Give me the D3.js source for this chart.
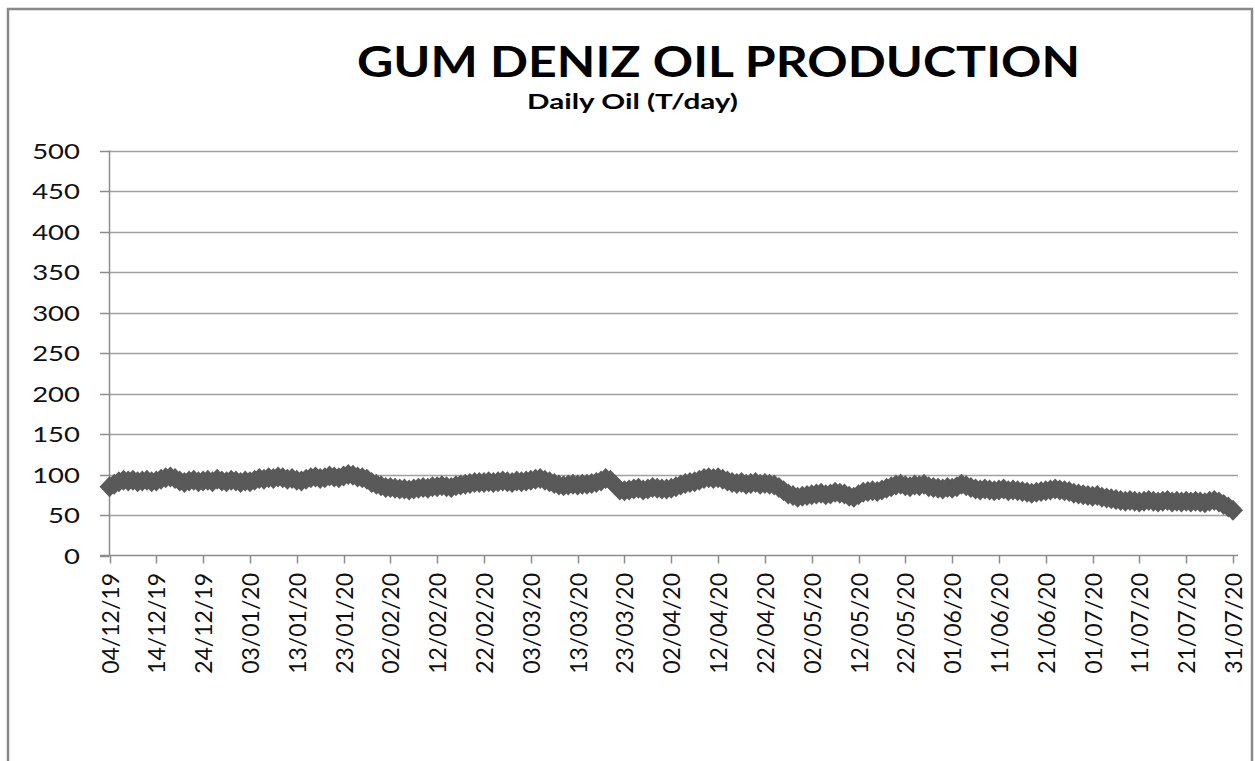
<!DOCTYPE html>
<html>
  <head>
    <title>Gum Deniz Oil Production</title>
    <script src="https://d3js.org/d3.v7.min.js"></script>
    <style>
      body {
        margin: 0;
        background: #ffffff;
      }
      svg {
        display: block;
      }
    </style>
  </head>
  <body onload="main()">
    <svg></svg>

    <script>
      // chart data
      var startDate = "04/12/19";
      var tickLabels = [
        "04/12/19", "14/12/19", "24/12/19", "03/01/20", "13/01/20",
        "23/01/20", "02/02/20", "12/02/20", "22/02/20", "03/03/20",
        "13/03/20", "23/03/20", "02/04/20", "12/04/20", "22/04/20",
        "02/05/20", "12/05/20", "22/05/20", "01/06/20", "11/06/20",
        "21/06/20", "01/07/20", "11/07/20", "21/07/20", "31/07/20"
      ];
      var yTicks = [0, 50, 100, 150, 200, 250, 300, 350, 400, 450, 500];
      // daily oil, T/day, one value per day from 04/12/19
      var dailyOil = [
        85, 88, 91, 93, 92, 93, 91, 92, 93, 91,
        92, 94, 96, 97, 95, 92, 90, 92, 93, 91,
        92, 93, 91, 94, 92, 91, 93, 92, 90, 92,
        91, 93, 95, 94, 96, 95, 97, 96, 94, 95,
        93, 92, 94, 96, 97, 95, 96, 98, 97, 96,
        98, 100, 99, 97, 96, 94, 90, 88, 86, 84,
        84, 83, 82, 82, 81, 82, 83, 84, 83, 85,
        85, 86, 85, 84, 86, 87, 88, 89, 90, 90,
        90, 91, 90, 91, 92, 91, 90, 92, 91, 92,
        93, 94, 95, 93, 91, 89, 87, 86, 87, 88,
        87, 88, 88, 89, 90, 92, 95, 93, 87, 81,
        80, 81, 82, 83, 81, 82, 84, 83, 82, 82,
        83, 85, 87, 89, 90, 91, 93, 95, 96, 95,
        96, 94, 92, 90, 89, 90, 88, 89, 90, 88,
        89, 88, 87, 84, 80, 76, 74, 72, 73, 74,
        75, 76, 77, 75, 76, 78, 77, 76, 73, 72,
        75, 78, 79, 80, 79, 81, 83, 85, 87, 88,
        86, 85, 87, 86, 88, 85, 84, 83, 82, 84,
        83, 85, 88, 86, 84, 82, 81, 82, 81, 80,
        81, 82, 80, 81, 80, 79, 78, 77, 78, 79,
        80, 81, 82, 81, 80, 79, 77, 76, 75, 74,
        73, 74, 72, 71, 70, 69, 68, 67, 68, 67,
        66, 67, 68, 67, 66, 67, 68, 66, 67, 66,
        67, 66, 67, 66, 65, 67, 68, 66, 63, 60, 56
      ];

      function main() {
        var parseDate = d3.utcParse("%d/%m/%y");
        var start = parseDate(startDate);

        var data = dailyOil.map(function (v, i) {
          return { date: d3.utcDay.offset(start, i), value: v };
        });

        var svg = d3.select("svg").attr("width", 1255).attr("height", 761);

        // chart frame
        svg
          .append("rect")
          .attr("x", 8)
          .attr("y", 9)
          .attr("width", 1244)
          .attr("height", 800)
          .attr("fill", "#ffffff")
          .attr("stroke", "#8a8a8a")
          .attr("stroke-width", 2.5);

        // scales
        var x = d3
          .scaleUtc()
          .domain([start, parseDate(tickLabels[tickLabels.length - 1])])
          .range([109.5, 1233]);

        var y = d3.scaleLinear().domain([0, 500]).range([555.5, 150.5]);

        var plotRight = 1238;

        // gridlines
        svg
          .append("g")
          .selectAll("line")
          .data(yTicks.filter(function (d) { return d > 0; }))
          .enter()
          .append("line")
          .attr("x1", 109.5)
          .attr("x2", plotRight)
          .attr("y1", function (d) { return Math.round(y(d)) + 0.5; })
          .attr("y2", function (d) { return Math.round(y(d)) + 0.5; })
          .attr("stroke", "#a0a0a0")
          .attr("stroke-width", 1.5);

        // y axis
        var yAxis = svg.append("g").attr("class", "y-axis");
        yAxis
          .append("line")
          .attr("x1", 109.5)
          .attr("x2", 109.5)
          .attr("y1", y(500))
          .attr("y2", y(0))
          .attr("stroke", "#8c8c8c")
          .attr("stroke-width", 1.5);
        yAxis
          .selectAll(".tick")
          .data(yTicks)
          .enter()
          .append("line")
          .attr("x1", 100)
          .attr("x2", 109.5)
          .attr("y1", function (d) { return Math.round(y(d)) + 0.5; })
          .attr("y2", function (d) { return Math.round(y(d)) + 0.5; })
          .attr("stroke", "#8c8c8c")
          .attr("stroke-width", 1.5);
        yAxis
          .selectAll("text")
          .data(yTicks)
          .enter()
          .append("text")
          .attr("text-anchor", "end")
          .attr("font-family", "Lato, sans-serif")
          .attr("font-size", 22)
          .attr("fill", "#111")
          .attr("transform", function (d) {
            return "translate(80," + (y(d) + 8) + ") scale(1.25,1)";
          })
          .text(function (d) { return d; });

        // x axis
        var xAxis = svg.append("g").attr("class", "x-axis");
        xAxis
          .append("line")
          .attr("x1", 100)
          .attr("x2", plotRight)
          .attr("y1", y(0))
          .attr("y2", y(0))
          .attr("stroke", "#8c8c8c")
          .attr("stroke-width", 1.5);
        xAxis
          .selectAll(".tick")
          .data(tickLabels)
          .enter()
          .append("line")
          .attr("x1", function (d) { return Math.round(x(parseDate(d))) + 0.5; })
          .attr("x2", function (d) { return Math.round(x(parseDate(d))) + 0.5; })
          .attr("y1", y(0))
          .attr("y2", y(0) + 8)
          .attr("stroke", "#8c8c8c")
          .attr("stroke-width", 1.5);
        xAxis
          .selectAll("text")
          .data(tickLabels)
          .enter()
          .append("text")
          .attr("text-anchor", "end")
          .attr("font-family", "Lato, sans-serif")
          .attr("font-size", 23)
          .attr("fill", "#111")
          .attr("transform", function (d) {
            return "translate(" + (x(parseDate(d)) + 9) + ",573) rotate(-90)";
          })
          .text(function (d) { return d; });

        // series line
        var line = d3
          .line()
          .x(function (d) { return x(d.date); })
          .y(function (d) { return y(d.value); });

        svg
          .append("path")
          .datum(data)
          .attr("fill", "none")
          .attr("stroke", "#595959")
          .attr("stroke-width", 3)
          .attr("d", line);

        // diamond markers
        svg
          .append("g")
          .selectAll("path")
          .data(data)
          .enter()
          .append("path")
          .attr("d", "M0,-10.5L10,0L0,10.5L-10,0Z")
          .attr("transform", function (d) {
            return "translate(" + x(d.date) + "," + y(d.value) + ")";
          })
          .attr("fill", "#595959");

        // titles
        svg
          .append("text")
          .attr("x", 357)
          .attr("y", 77)
          .attr("font-family", "Lato, sans-serif")
          .attr("font-weight", "bold")
          .attr("font-size", 42)
          .attr("textLength", 723)
          .attr("lengthAdjust", "spacingAndGlyphs")
          .attr("fill", "#000")
          .text("GUM DENIZ OIL PRODUCTION");

        svg
          .append("text")
          .attr("x", 527)
          .attr("y", 109)
          .attr("font-family", "Lato, sans-serif")
          .attr("font-weight", "bold")
          .attr("font-size", 21)
          .attr("textLength", 211)
          .attr("lengthAdjust", "spacingAndGlyphs")
          .attr("fill", "#000")
          .text("Daily Oil (T/day)");
      }
    </script>
  </body>
</html>
